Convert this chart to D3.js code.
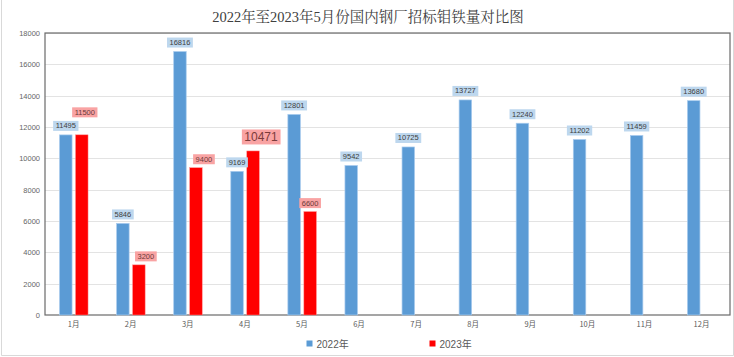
<!DOCTYPE html>
<html><head><meta charset="utf-8">
<script src="https://cdn.jsdelivr.net/npm/d3@7"></script>
<style>body{margin:0;background:#fff;}svg{display:block;}</style>
</head><body>
<script>
const title = "2022年至2023年5月份国内钢厂招标钼铁量对比图";
const months = ["1月","2月","3月","4月","5月","6月","7月","8月","9月","10月","11月","12月"];
const series2022 = [11495,5846,16816,9169,12801,9542,10725,13727,12240,11202,11459,13680];
const series2023 = [11500,3200,9400,10471,6600];
const seriesNames = ["2022年","2023年"];
const yTicks = [0,2000,4000,6000,8000,10000,12000,14000,16000,18000];

// label placement tweaks (style, not data): [dx, extra gap]
const redLabelAdj = [[3,14],[7,0],[8,0],[8,2],[0,0]];

const W=734,H=357;
const M={l:45,r:730,t:33,b:315};
const svg=d3.select("body").append("svg").attr("width",W).attr("height",H);

// outer border
svg.append("path").attr("d",`M1.5,0 V355.5 H733.5 V0`).attr("fill","none").attr("stroke","#d9d9d9");

const x=d3.scaleBand().domain(months).range([M.l,M.r]);
const y=d3.scaleLinear().domain([0,18000]).range([M.b,M.t]);

// gridlines
svg.append("g").selectAll("line").data(yTicks.slice(1)).join("line")
 .attr("x1",M.l).attr("x2",M.r).attr("y1",d=>Math.round(y(d))+0.5).attr("y2",d=>Math.round(y(d))+0.5)
 .attr("stroke","#e3e3e3").attr("stroke-width",1);

// y axis
const ya=svg.append("g").attr("transform",`translate(${M.l},0)`)
 .call(d3.axisLeft(y).tickValues(yTicks).tickSize(0).tickPadding(5).tickFormat(d3.format("d")));
ya.select(".domain").remove();
ya.selectAll("text").attr("font-family","Liberation Sans, Arial, sans-serif").attr("font-size",7.5).attr("fill","#666");

// x axis
const xa=svg.append("g").attr("transform",`translate(0,${M.b})`)
 .call(d3.axisBottom(x).tickSize(0).tickPadding(7));
xa.select(".domain").remove();
xa.selectAll("text").attr("font-family","Noto Sans CJK SC, sans-serif").attr("font-size",7.5).attr("fill","#595959");

// frame
svg.append("rect").attr("x",M.l).attr("y",M.t).attr("width",M.r-M.l).attr("height",M.b-M.t)
 .attr("fill","none").attr("stroke","#6a6a6a").attr("stroke-width",1.2);

const bw=12.5, gap=1.5;
const cx=m=>x(m)+x.bandwidth()/2;

// bars 2022
svg.append("g").selectAll("rect").data(series2022).join("rect")
 .attr("x",(d,i)=>cx(months[i])-gap-bw).attr("width",bw)
 .attr("y",d=>y(d)).attr("height",d=>y(0)-y(d))
 .attr("fill","#5b9bd5").attr("stroke","#a8cbee").attr("stroke-width",0.7);
// bars 2023
svg.append("g").selectAll("rect").data(series2023).join("rect")
 .attr("x",(d,i)=>cx(months[i])+gap+0.5).attr("width",bw)
 .attr("y",d=>y(d)).attr("height",d=>y(0)-y(d))
 .attr("fill","#ff0000").attr("stroke","#ff8a8a").attr("stroke-width",0.5);

function label(g,text,xc,yb,fs,bg,fg){
  const t=g.append("text").attr("x",xc).attr("y",yb).attr("text-anchor","middle")
   .attr("font-family","Liberation Sans, Arial, sans-serif").attr("font-size",fs).attr("fill",fg).text(text);
  const bb=t.node().getBBox();
  g.insert("rect","text").attr("x",bb.x-2.5).attr("y",bb.y-0.5).attr("width",bb.width+5).attr("height",bb.height+1).attr("fill",bg);
}
const lg=svg.append("g");
series2022.forEach((d,i)=>{
  const g=lg.append("g");
  label(g,d,cx(months[i])-gap-bw/2,y(d)-6.5,7.5,"#bdd7ee","#404040");
});
series2023.forEach((d,i)=>{
  const g=lg.append("g");
  const big=d===10471;
  const a=redLabelAdj[i];
  label(g,d,cx(months[i])+gap+0.5+bw/2+a[0],y(d)-(big?8:6)-a[1],big?12:7.5,"#f9a3a3",big?"#7a3b3b":"#6a3a3a");
});

// title
svg.append("text").attr("x",368).attr("y",22).attr("text-anchor","middle")
 .attr("font-family","Liberation Serif, Noto Serif CJK SC, Noto Sans CJK SC, serif").attr("font-size",14.5)
 .attr("fill","#404040").text(title);

// legend
const leg=[{n:seriesNames[0],c:"#5b9bd5",x:306.5},{n:seriesNames[1],c:"#ff0000",x:429.5}];
const L=svg.append("g");
leg.forEach(o=>{
  L.append("rect").attr("x",o.x).attr("y",340.5).attr("width",6).attr("height",6).attr("fill",o.c);
  L.append("text").attr("x",o.x+10).attr("y",347.5).attr("font-family","Liberation Sans, Noto Sans CJK SC, sans-serif")
   .attr("font-size",10).attr("fill","#595959").text(o.n);
});
</script>
</body></html>
